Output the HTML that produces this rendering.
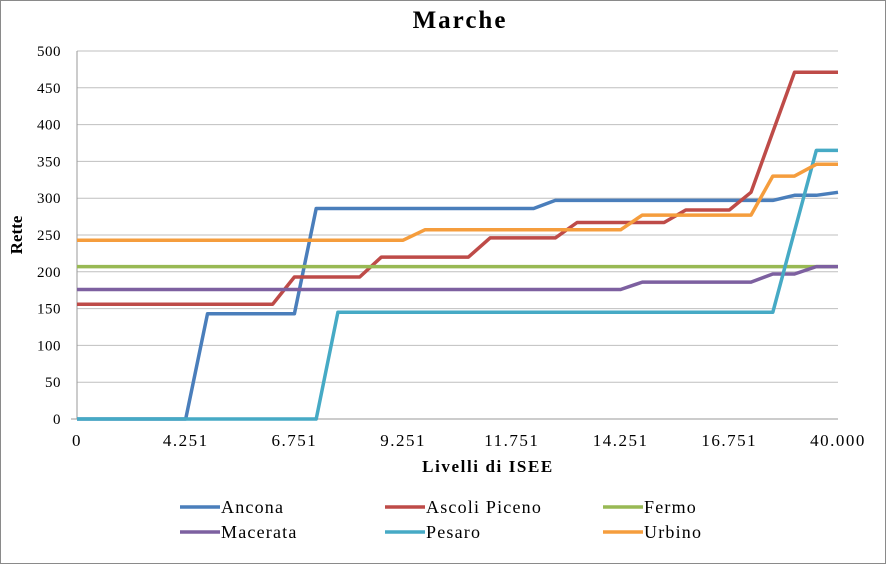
<!DOCTYPE html>
<html><head><meta charset="utf-8"><style>
body{margin:0;background:#fff;}
svg{display:block;font-family:"Liberation Serif",serif;}
</style></head><body>
<svg id="chart" width="887" height="566">
<rect x="0.5" y="0.5" width="885" height="563" fill="#fff" stroke="#8a8a8a"/>
<text x="460" y="28" text-anchor="middle" font-size="25" font-weight="bold" letter-spacing="2">Marche</text>
<text transform="translate(22,235) rotate(-90)" text-anchor="middle" font-size="17" font-weight="bold">Rette</text>
<text x="488" y="472" text-anchor="middle" font-size="17" font-weight="bold" letter-spacing="1.6">Livelli di ISEE</text>
<g id="grid"></g><g id="axes"></g><g id="series"></g><g id="legend"></g>
</svg>
<script>
const categories=["0","2.251","2.751","3.251","3.751","4.251","4.751","5.251","5.751","6.251","6.751","7.251","7.751","8.251","8.751","9.251","9.751","10.251","10.751","11.251","11.751","12.251","12.751","13.251","13.751","14.251","14.751","15.251","15.751","16.251","16.751","17.251","17.751","18.251","18.751","40.000"];
const yTicks=[0,50,100,150,200,250,300,350,400,450,500];
const seriesNames=["Ancona","Ascoli Piceno","Fermo","Macerata","Pesaro","Urbino"];
const seriesColors=["#4a7ebb","#be4b48","#98b954","#7d60a0","#46aac5","#f59d3d"];
const ancona=[0,0,0,0,0,0,143,143,143,143,143,286,286,286,286,286,286,286,286,286,286,286,297,297,297,297,297,297,297,297,297,297,297,304,304,308];
const ascoli=[156,156,156,156,156,156,156,156,156,156,193,193,193,193,220,220,220,220,220,246,246,246,246,267,267,267,267,267,284,284,284,308,390,471,471,471];
const fermo=[207,207,207,207,207,207,207,207,207,207,207,207,207,207,207,207,207,207,207,207,207,207,207,207,207,207,207,207,207,207,207,207,207,207,207,207];
const macerata=[176,176,176,176,176,176,176,176,176,176,176,176,176,176,176,176,176,176,176,176,176,176,176,176,176,176,186,186,186,186,186,186,197,197,207,207];
const pesaro=[0,0,0,0,0,0,0,0,0,0,0,0,145,145,145,145,145,145,145,145,145,145,145,145,145,145,145,145,145,145,145,145,145,255,365,365];
const urbino=[243,243,243,243,243,243,243,243,243,243,243,243,243,243,243,243,257,257,257,257,257,257,257,257,257,257,277,277,277,277,277,277,330,330,346,346];
const allSeries=[ancona,ascoli,fermo,macerata,pesaro,urbino];
const NS="http://www.w3.org/2000/svg";
const X0=77,X1=838,Y0=419,Y1=51;
function xPos(i){return X0+(X1-X0)*i/(categories.length-1);}
function yPos(v){return Y0-(Y0-Y1)*v/500;}
function mk(tag,attrs,parent){const e=document.createElementNS(NS,tag);for(const k in attrs)e.setAttribute(k,attrs[k]);parent.appendChild(e);return e;}
const grid=document.getElementById('grid'),axes=document.getElementById('axes'),ser=document.getElementById('series'),leg=document.getElementById('legend');
yTicks.forEach(t=>{
 const y=yPos(t);
 if(t>0){const g=mk('line',{x1:X0,x2:X1,y1:y,y2:y,stroke:'#bfbfbf','stroke-width':1},grid);
 
 }
 const tx=mk('text',{x:61,y:y+5,'text-anchor':'end','font-size':15,'letter-spacing':'0.5'},axes);
 tx.textContent=t;
 
 
});
const ya=mk('line',{x1:X0,x2:X0,y1:Y1,y2:Y0,stroke:'#999'},axes);


const xa=mk('line',{x1:X0-6,x2:X1,y1:Y0,y2:Y0,stroke:'#999'},axes);


categories.forEach((c,i)=>{
 if(i%5!==0)return;
 const tx=mk('text',{x:xPos(i),y:446,'text-anchor':'middle','font-size':17,'letter-spacing':'1.5'},axes);
 tx.textContent=c;
 
 
});
allSeries.forEach((d,s)=>{
 const pts=d.map((v,i)=>xPos(i).toFixed(1)+','+yPos(v).toFixed(1)).join(' ');
 const p=mk('polyline',{points:pts,fill:'none',stroke:seriesColors[s],'stroke-width':3.5,'stroke-linejoin':'round'},ser);
 
 
});
const lx=[180,385,603],ly=[507,532];
seriesNames.forEach((n,s)=>{
 const x=lx[s%3],y=ly[Math.floor(s/3)];
 const g=mk('g',{},leg);
 
 
 mk('line',{x1:x,x2:x+40,y1:y,y2:y,stroke:seriesColors[s],'stroke-width':3.5},g);
 const t=mk('text',{x:x+41,y:y+6,'font-size':18,'letter-spacing':'1.2'},g);
 t.textContent=n;
});
</script>
</body></html>
